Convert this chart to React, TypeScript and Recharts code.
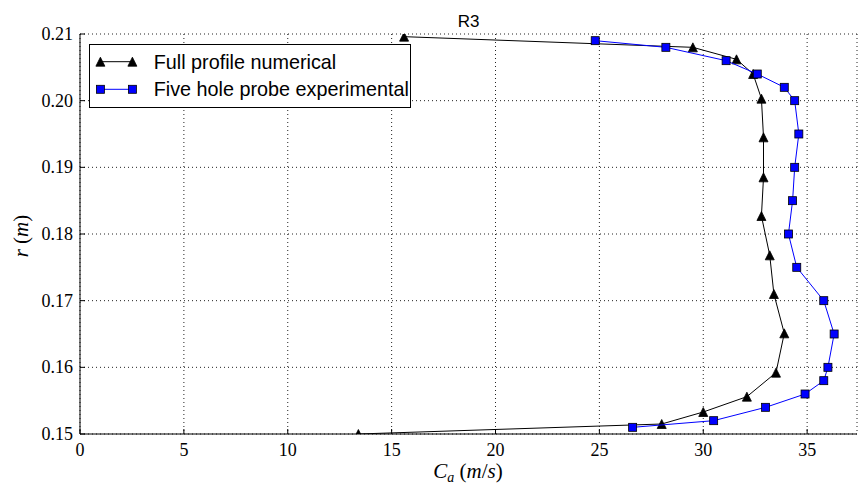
import React from 'react';
import { ScatterChart, Scatter, XAxis, YAxis, CartesianGrid, Legend } from 'recharts';

// Full profile numerical (triangles)
const numCa = [15.6, 29.5, 31.6, 32.4, 32.8, 32.9, 32.9, 32.8, 33.2, 33.4, 33.9, 33.5, 32.1, 30.0, 28.0, 13.4];
const numR = [0.2096, 0.208, 0.2062, 0.204, 0.2003, 0.1945, 0.1885, 0.1827, 0.1768, 0.171, 0.1651, 0.1592, 0.1556, 0.1533, 0.1515, 0.15];
// Five hole probe experimental (squares)
const expCa = [24.8, 28.2, 31.1, 32.6, 33.9, 34.4, 34.6, 34.4, 34.3, 34.1, 34.5, 35.8, 36.3, 36.0, 35.8, 34.9, 33.0, 30.5, 26.6];
const expR = [0.209, 0.208, 0.206, 0.204, 0.202, 0.2, 0.195, 0.19, 0.185, 0.18, 0.175, 0.17, 0.165, 0.16, 0.158, 0.156, 0.154, 0.152, 0.151];

const xTicks = [0, 5, 10, 15, 20, 25, 30, 35];
const yTicks = [0.15, 0.16, 0.17, 0.18, 0.19, 0.2, 0.21];
const seriesNames = ['Full profile numerical', 'Five hole probe experimental'];
const titleText = 'R3';

const numData = numCa.map((v, i) => ({ x: v, y: numR[i] }));
const expData = expCa.map((v, i) => ({ x: v, y: expR[i] }));

const W = 862;
const H = 491;
const SERIF = '"Liberation Serif", "DejaVu Serif", serif';
const SANS = '"Liberation Sans", Arial, sans-serif';
const TICK = 5;

const Triangle = (props: any) => {
  const { cx, cy } = props;
  if (cx == null || cy == null) return null;
  const h = 4.5;
  return (
    <polygon
      points={`${cx},${cy - h} ${cx - h},${cy + h} ${cx + h},${cy + h}`}
      fill="#000"
      stroke="#000"
      strokeWidth={0.8}
    />
  );
};

const Square = (props: any) => {
  const { cx, cy } = props;
  if (cx == null || cy == null) return null;
  const h = 4;
  return <rect x={cx - h} y={cy - h} width={2 * h} height={2 * h} fill="#0000ff" stroke="#000" strokeWidth={0.8} />;
};

const BottomTick = (props: any) => {
  const { x, y, payload } = props;
  return (
    <g>
      <line x1={x} x2={x} y1={y} y2={y - TICK} stroke="#000" strokeWidth={1} />
      <text x={x} y={y + 22} textAnchor="middle" fontFamily={SERIF} fontSize={18} fill="#000">
        {payload.value}
      </text>
    </g>
  );
};

const TopTick = (props: any) => {
  const { x, y } = props;
  return <line x1={x} x2={x} y1={y} y2={y + TICK} stroke="#000" strokeWidth={1} />;
};

const LeftTick = (props: any) => {
  const { x, y, payload } = props;
  return (
    <g>
      <line x1={x} x2={x + TICK} y1={y} y2={y} stroke="#000" strokeWidth={1} />
      <text x={x - 7} y={y + 6} textAnchor="end" fontFamily={SERIF} fontSize={18} fill="#000">
        {Number(payload.value).toFixed(2)}
      </text>
    </g>
  );
};

const RightTick = (props: any) => {
  const { x, y } = props;
  return <line x1={x} x2={x - TICK} y1={y} y2={y} stroke="#000" strokeWidth={1} />;
};

const LegendBox = () => {
  const bw = 322;
  const bh = 64;
  const rows = [17.7, 45.3];
  return (
    <svg width={bw} height={bh} style={{ display: 'block' }}>
      <rect x={0.5} y={0.5} width={bw - 1} height={bh - 1} fill="#fff" stroke="#000" strokeWidth={1} />
      <line x1={11.4} x2={43.4} y1={rows[0]} y2={rows[0]} stroke="#000" strokeWidth={1} />
      <Triangle cx={11.4} cy={rows[0]} />
      <Triangle cx={43.4} cy={rows[0]} />
      <text x={64.7} y={rows[0] + 7} fontFamily={SANS} fontSize={19.8} fill="#000">
        {seriesNames[0]}
      </text>
      <line x1={11.4} x2={43.4} y1={rows[1]} y2={rows[1]} stroke="#0000ff" strokeWidth={1} />
      <Square cx={11.4} cy={rows[1]} />
      <Square cx={43.4} cy={rows[1]} />
      <text x={64.7} y={rows[1] + 7} fontFamily={SANS} fontSize={19.8} fill="#000">
        {seriesNames[1]}
      </text>
    </svg>
  );
};

export default function App() {
  return (
    <div style={{ position: 'absolute', left: 0, top: 0, width: W, height: H, background: '#fff' }}>
      <ScatterChart width={W} height={H} margin={{ top: 34, right: 5, bottom: 27, left: 20 }}>
        <CartesianGrid stroke="#222" strokeDasharray="1 3" strokeWidth={1} />
        <XAxis
          xAxisId={0}
          type="number"
          dataKey="x"
          domain={[0, 37.4]}
          ticks={xTicks}
          interval={0}
          height={30}
          tickSize={0}
          tickMargin={0}
          tickLine={false}
          axisLine={{ stroke: '#000', strokeWidth: 1 }}
          tick={<BottomTick />}
          allowDataOverflow
        />
        <XAxis
          xAxisId="top"
          orientation="top"
          type="number"
          dataKey="x"
          domain={[0, 37.4]}
          ticks={xTicks}
          interval={0}
          height={0}
          tickSize={0}
          tickMargin={0}
          tickLine={false}
          axisLine={{ stroke: '#000', strokeWidth: 1 }}
          tick={<TopTick />}
          allowDataOverflow
        />
        <YAxis
          yAxisId={0}
          type="number"
          dataKey="y"
          domain={[0.15, 0.21]}
          ticks={yTicks}
          interval={0}
          width={60}
          tickSize={0}
          tickMargin={0}
          tickLine={false}
          axisLine={{ stroke: '#000', strokeWidth: 1 }}
          tick={<LeftTick />}
          allowDataOverflow
        />
        <YAxis
          yAxisId="right"
          orientation="right"
          type="number"
          dataKey="y"
          domain={[0.15, 0.21]}
          ticks={yTicks}
          interval={0}
          width={0}
          tickSize={0}
          tickMargin={0}
          tickLine={false}
          axisLine={{ stroke: '#000', strokeWidth: 1 }}
          tick={<RightTick />}
          allowDataOverflow
        />
        <Scatter
          name={seriesNames[0]}
          data={numData}
          xAxisId={0}
          yAxisId={0}
          line={{ stroke: '#000', strokeWidth: 1 }}
          lineType="joint"
          shape={<Triangle />}
          isAnimationActive={false}
        />
        <Scatter
          name={seriesNames[1]}
          data={expData}
          xAxisId={0}
          yAxisId={0}
          line={{ stroke: '#0000ff', strokeWidth: 1 }}
          lineType="joint"
          shape={<Square />}
          isAnimationActive={false}
        />
        <Legend
          layout="horizontal"
          align="center"
          verticalAlign="middle"
          content={<LegendBox />}
          wrapperStyle={{ position: 'absolute', left: 89, top: 44, width: 322, height: 64, bottom: 'auto', right: 'auto' }}
        />
        <text x={468.5} y={27} textAnchor="middle" fontFamily={SANS} fontSize={17} fill="#000">
          {titleText}
        </text>
        <text x={468} y={478} textAnchor="middle" fontFamily={SERIF} fontSize={21} fill="#000">
          <tspan fontStyle="italic">C</tspan>
          <tspan fontStyle="italic" fontSize={14} dy={4}>a</tspan>
          <tspan dy={-4}> (</tspan>
          <tspan fontStyle="italic">m</tspan>
          <tspan>/</tspan>
          <tspan fontStyle="italic">s</tspan>
          <tspan>)</tspan>
        </text>
        <text
          x={28}
          y={236}
          textAnchor="middle"
          fontFamily={SERIF}
          fontSize={21}
          fill="#000"
          transform="rotate(-90 28 236)"
        >
          <tspan fontStyle="italic">r</tspan>
          <tspan> (</tspan>
          <tspan fontStyle="italic">m</tspan>
          <tspan>)</tspan>
        </text>
      </ScatterChart>
    </div>
  );
}
